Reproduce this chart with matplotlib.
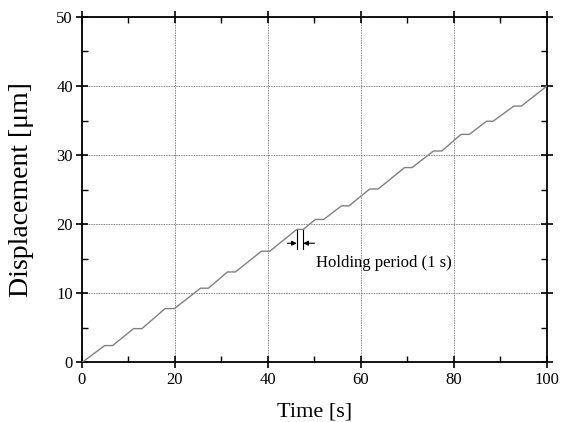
import matplotlib
matplotlib.use("Agg")
import matplotlib.pyplot as plt
from matplotlib.ticker import MultipleLocator

plt.rcParams['font.family'] = ['Liberation Serif', 'DejaVu Serif']

# staircase: ramp, then hold ~1 s at each level
time = [0, 4.9, 6.6, 11.1, 12.9, 17.9, 19.9, 25.5, 27.2, 31.3, 33.0, 38.6, 40.4,
        46.2, 47.6, 50.2, 52.0, 55.8, 57.4, 61.9, 63.7, 69.4, 71.0, 75.6, 77.4,
        81.5, 83.3, 87.0, 88.4, 92.9, 94.5, 100]
disp = [0, 2.45, 2.45, 4.9, 4.9, 7.8, 7.8, 10.75, 10.75, 13.1, 13.1, 16.1, 16.1,
        19.25, 19.25, 20.7, 20.7, 22.65, 22.65, 25.1, 25.1, 28.2, 28.2, 30.6, 30.6,
        33.0, 33.0, 34.9, 34.9, 37.1, 37.1, 40]

hold_start, hold_end = 46.2, 47.6
hold_level = 19.25

fig = plt.figure(figsize=(5.61, 4.22), dpi=100)
ax = fig.add_axes([0.146, 0.141, 0.829, 0.819])

ax.plot(time, disp, color='#808080', lw=1.0, zorder=3)

ax.set_xlim(0, 100)
ax.set_ylim(0, 50)
ax.xaxis.set_major_locator(MultipleLocator(20))
ax.xaxis.set_minor_locator(MultipleLocator(10))
ax.yaxis.set_major_locator(MultipleLocator(10))
ax.yaxis.set_minor_locator(MultipleLocator(5))
ax.tick_params(which='major', direction='inout', length=9, width=1.2,
               labelsize=12, top=True, right=True, pad=2)
ax.tick_params(which='minor', direction='in', length=4, width=1.0,
               top=True, right=True)
for s in ax.spines.values():
    s.set_linewidth(1.3)

ax.grid(True, which='major', color='#555555', ls=(0, (1, 1)), lw=0.6)

# holding period marker
ax.plot([hold_start, hold_start], [16.4, hold_level], color='black', lw=0.8)
ax.plot([hold_end, hold_end], [16.4, hold_level], color='black', lw=0.8)
ax.annotate('', xy=(hold_start, 17.25), xytext=(44.2, 17.25),
            arrowprops=dict(arrowstyle='-|>', color='black', lw=0.8,
                            mutation_scale=7, shrinkA=0, shrinkB=0))
ax.annotate('', xy=(hold_end, 17.25), xytext=(50.0, 17.25),
            arrowprops=dict(arrowstyle='-|>', color='black', lw=0.8,
                            mutation_scale=7, shrinkA=0, shrinkB=0))
ax.text(50.3, 14.4, 'Holding period (1 s)', fontsize=12, va='center', ha='left')

ax.set_xlabel('Time [s]', fontsize=16)
ax.set_ylabel('Displacement [\u03bcm]', fontsize=20)
ax.xaxis.set_label_coords(0.5, -0.117)
ax.yaxis.set_label_coords(-0.103, 0.5)

fig.savefig('out.png', dpi=100)
